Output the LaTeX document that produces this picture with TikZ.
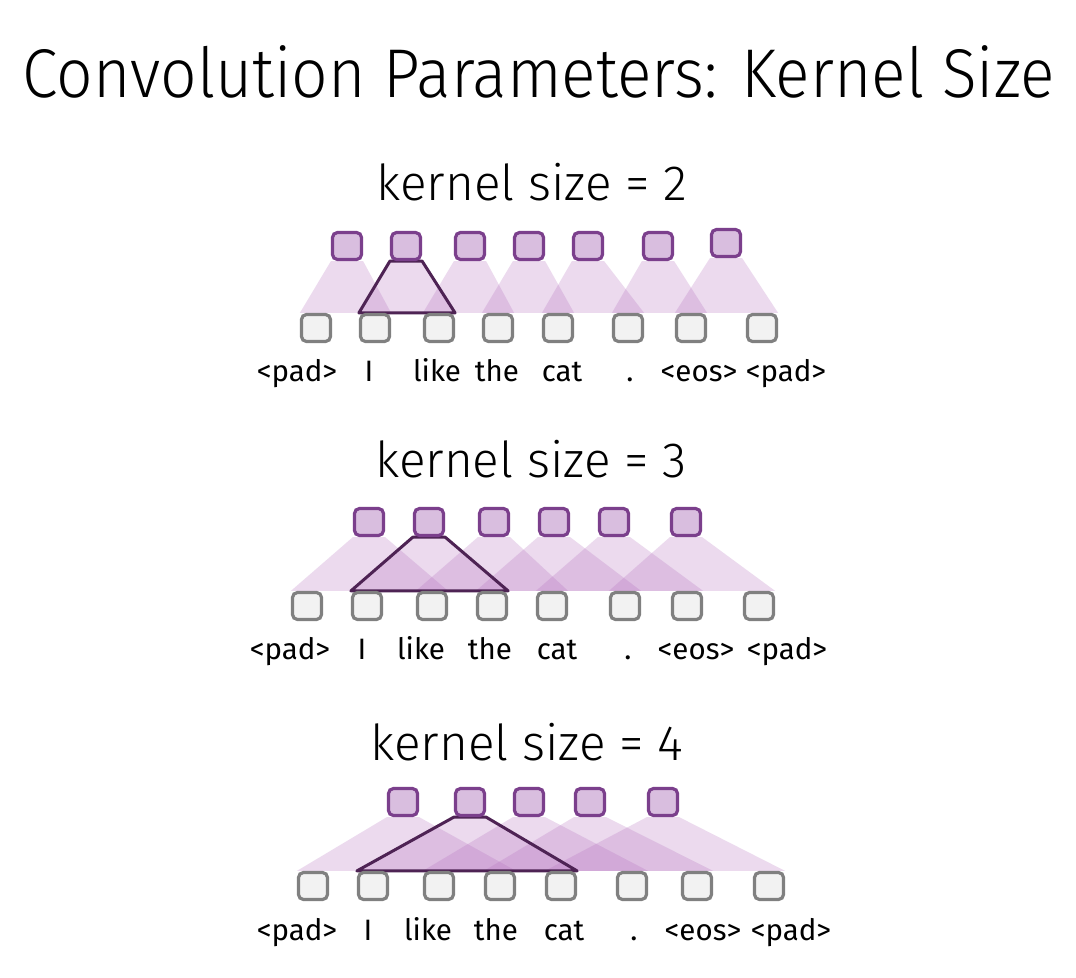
\documentclass[tikz,border=0pt]{standalone}
\usepackage{fontspec}
\setmainfont{Fira Sans}
\newfontfamily\titlefont{Fira Sans Light}
\usetikzlibrary{backgrounds}
\definecolor{inedge}{HTML}{808080}
\definecolor{infill}{HTML}{F2F2F2}
\definecolor{outedge}{HTML}{7B3F8C}
\definecolor{outfill}{HTML}{D9BEDF}
\definecolor{fanfill}{RGB}{180,110,190}
\definecolor{hiedge}{HTML}{4E2354}
\begin{document}
\begin{tikzpicture}[x=1pt,y=-1pt,
 tok/.style={rectangle,rounded corners=5pt,minimum width=29pt,minimum height=27pt,line width=3.2pt,inner sep=0pt},
 inbox/.style={tok,draw=inedge,fill=infill},
 outbox/.style={tok,draw=outedge,fill=outfill},
 fan/.style={fill=fanfill,fill opacity=0.25},
 hifan/.style={draw=hiedge,line width=3pt,line join=round},
 word/.style={anchor=base,font=\fontsize{29.5}{32}\selectfont,inner sep=0pt},
 heading/.style={anchor=base,font=\titlefont\fontsize{49.5}{54}\selectfont,inner sep=0pt}]
\begin{pgfonlayer}{background}
\fill[white] (0,0) rectangle (1076,977);
\end{pgfonlayer}
\useasboundingbox (0,0) rectangle (1076,977);

\node[anchor=base,inner sep=0pt,font=\titlefont\fontsize{69}{74}\selectfont] (title) at (539,97) {\scalebox{0.93}[1]{Convolution Parameters: Kernel Size}};

% ---------- kernel size 2
\node[heading] (h2) at (532,200) {kernel size = 2};
\foreach \x [count=\i] in {316,375,439,498,558,628,691,762}
  \node[inbox] (a\i) at (\x,328) {};
\foreach \x/\y [count=\i] in {347/246,406/246,470/246,529/246,588/246,658/246,726/243}
  \node[outbox] (ao\i) at (\x,\y) {};
\begin{pgfonlayer}{background}
\foreach \i in {1,...,7}{
  \pgfmathtruncatemacro\j{\i+1}
  \fill[fan] (ao\i.south west) -- (ao\i.south east) -- (a\j.north east) -- (a\i.north west) -- cycle;
}
\draw[hifan] (ao2.south west) -- (ao2.south east) -- (a3.north east) -- (a2.north west) -- cycle;
\end{pgfonlayer}
\foreach \x/\t [count=\i] in {297/{<pad>},369/I,437/like,497/the,562/cat,630/.,699/{<eos>},786/{<pad>}}
  \node[word] (aw\i) at (\x,381) {\t};

% ---------- kernel size 3
\node[heading] (h3) at (531,477) {kernel size = 3};
\foreach \x [count=\i] in {307,367,432,492,552,625,687,759}
  \node[inbox] (b\i) at (\x,606) {};
\foreach \x [count=\i] in {369,429,494,554,614,686}
  \node[outbox] (bo\i) at (\x,522) {};
\begin{pgfonlayer}{background}
\foreach \i in {1,...,6}{
  \pgfmathtruncatemacro\j{\i+2}
  \fill[fan] (bo\i.south west) -- (bo\i.south east) -- (b\j.north east) -- (b\i.north west) -- cycle;
}
\draw[hifan] (bo2.south west) -- (bo2.south east) -- (b4.north east) -- (b2.north west) -- cycle;
\end{pgfonlayer}
\foreach \x/\t [count=\i] in {290/{<pad>},362/I,421/like,490/the,557/cat,628/.,696/{<eos>},787/{<pad>}}
  \node[word] (bw\i) at (\x,659) {\t};

% ---------- kernel size 4
\node[heading] (h4) at (527,760) {kernel size = 4};
\foreach \x [count=\i] in {313,373,439,500,561,632,697,769}
  \node[inbox] (c\i) at (\x,886) {};
\foreach \x [count=\i] in {403,470,529,590,663}
  \node[outbox] (co\i) at (\x,802) {};
\begin{pgfonlayer}{background}
\foreach \i in {1,...,5}{
  \pgfmathtruncatemacro\j{\i+3}
  \fill[fan] (co\i.south west) -- (co\i.south east) -- (c\j.north east) -- (c\i.north west) -- cycle;
}
\draw[hifan] (co2.south west) -- (co2.south east) -- (c5.north east) -- (c2.north west) -- cycle;
\end{pgfonlayer}
\foreach \x/\t [count=\i] in {297/{<pad>},368/I,428/like,496/the,564/cat,634/.,703/{<eos>},791/{<pad>}}
  \node[word] (cw\i) at (\x,940) {\t};
\end{tikzpicture}
\end{document}
